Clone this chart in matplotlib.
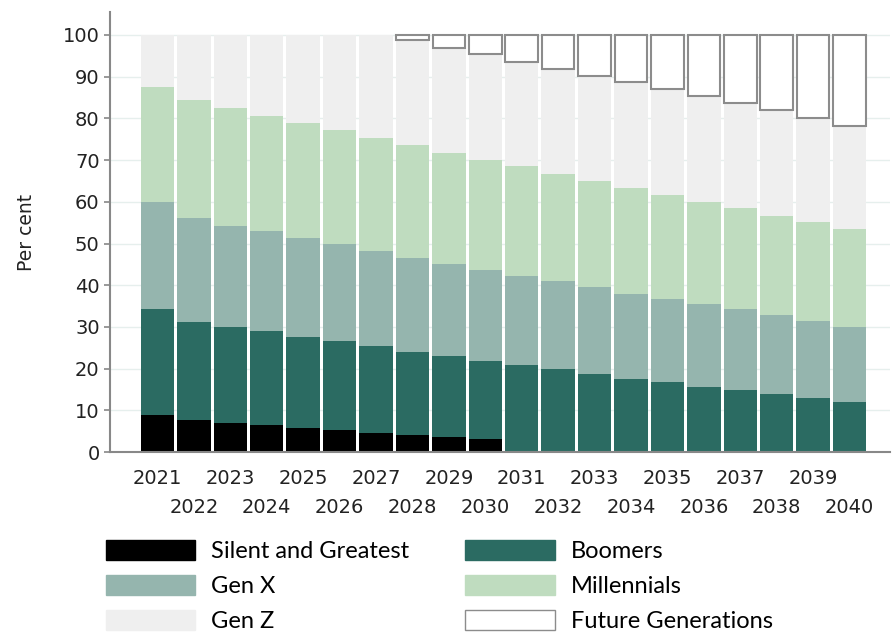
import numpy as np
import matplotlib.pyplot as plt
from matplotlib.patches import Patch

years = [str(y) for y in range(2021, 2041)]

# cumulative tops (per cent)
silent = [8.8, 7.6, 7.0, 6.5, 5.8, 5.2, 4.6, 4.2, 3.7, 3.2,
          0, 0, 0, 0, 0, 0, 0, 0, 0, 0]
boomers_top = [34.2, 31.3, 30.1, 29.0, 27.7, 26.6, 25.4, 24.1, 23.0, 21.9,
               20.8, 19.8, 18.8, 17.6, 16.8, 15.7, 14.8, 13.8, 12.9, 12.0]
genx_top = [59.9, 56.1, 54.3, 53.0, 51.4, 49.8, 48.3, 46.6, 45.2, 43.7,
            42.3, 40.9, 39.5, 37.9, 36.6, 35.4, 34.2, 32.8, 31.5, 30.1]
mill_top = [87.5, 84.3, 82.5, 80.6, 78.8, 77.2, 75.2, 73.6, 71.7, 70.0,
            68.5, 66.7, 64.9, 63.3, 61.6, 59.9, 58.4, 56.6, 55.1, 53.4]
future = [0, 0, 0, 0, 0, 0, 0, 1.3, 3.2, 4.6,
          6.4, 8.1, 9.9, 11.3, 13.0, 14.7, 16.4, 18.1, 20.0, 21.9]

labels = ['Silent and Greatest', 'Boomers', 'Gen X', 'Millennials', 'Gen Z', 'Future Generations']
colors = ['#000000', '#2b6b62', '#95b5ae', '#bfdcbf', '#efefef', '#ffffff']


def main():
    s = np.array(silent)
    b = np.array(boomers_top) - s
    gx = np.array(genx_top) - np.array(boomers_top)
    m = np.array(mill_top) - np.array(genx_top)
    fut = np.array(future)
    gz = 100 - fut - np.array(mill_top)

    x = np.arange(len(years))
    w = 0.92

    fig = plt.figure(figsize=(8.95, 6.34), dpi=100)
    ax = fig.add_axes([0.123, 0.287, 0.871, 0.694])

    for yv in range(10, 101, 10):
        ax.axhline(yv, color='#e6efed', lw=1, zorder=0)

    bottom = np.zeros(len(x))
    for vals, c in zip([s, b, gx, m, gz], colors[:5]):
        ax.bar(x, vals, w, bottom=bottom, color=c, lw=0, zorder=2)
        bottom = bottom + vals
    idx = fut > 0
    ax.bar(x[idx], fut[idx], w * 0.97, bottom=100 - fut[idx], color='white',
           edgecolor='#8c8c8c', lw=1.5, zorder=3)

    ax.set_xlim(-1.3, 20.1)
    ax.set_ylim(0, 105.5)
    ax.set_yticks(range(0, 101, 10))
    ax.set_xticks(x)
    ax.set_xticklabels(years)
    for i, t in enumerate(ax.xaxis.get_major_ticks()):
        t.set_pad(12 if i % 2 == 0 else 33)
    ax.tick_params(axis='x', length=0, labelsize=14, colors='#222222')
    ax.tick_params(axis='y', length=4, width=1.2, color='#888888', labelsize=14,
                   labelcolor='#222222')
    for sp in ['top', 'right']:
        ax.spines[sp].set_visible(False)
    for sp in ['left', 'bottom']:
        ax.spines[sp].set_color('#888888')
        ax.spines[sp].set_linewidth(1.5)
    ax.set_ylabel('Per cent', fontsize=13.5, labelpad=19, color='#222222')

    handles = [Patch(facecolor=c, edgecolor='#8c8c8c' if c == '#ffffff' else c, lw=1)
               for c in colors]
    order = [0, 2, 4, 1, 3, 5]
    fig.legend([handles[i] for i in order], [labels[i] for i in order],
               ncol=2, loc='upper left', bbox_to_anchor=(0.118, 0.149),
               frameon=False, handlelength=3.8, handleheight=0.95,
               handletextpad=0.65, columnspacing=2.4, labelspacing=0.55,
               borderaxespad=0, borderpad=0, prop={'family': 'Lato', 'size': 17})

    fig.savefig('out.png', dpi=100)


if __name__ == "__main__":
    main()
